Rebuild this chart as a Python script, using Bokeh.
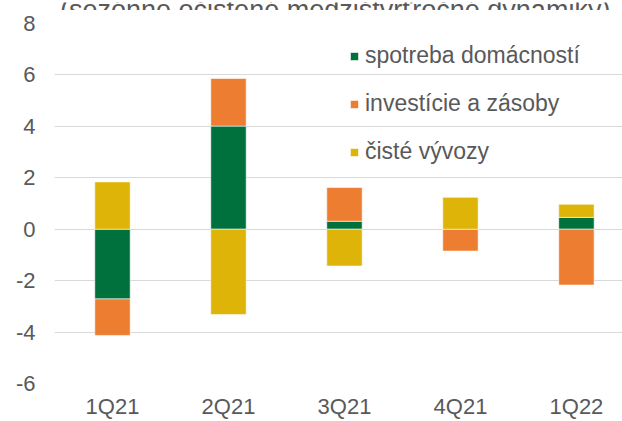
from bokeh.plotting import figure
from bokeh.layouts import column
from bokeh.models import ColumnDataSource, Range1d, Legend, LegendItem, FixedTicker
from bokeh.core.properties import value
from bokeh.embed import file_html
from bokeh.resources import INLINE

# ---- data ----
quarters = ["1Q21", "2Q21", "3Q21", "4Q21", "1Q22"]
spotreba = [-2.71, 4.01, 0.31, 0.0, 0.46]
investicie = [-1.42, 1.85, 1.31, -0.85, -2.17]
vyvozy = [1.84, -3.32, -1.43, 1.24, 0.51]
series_names = ["spotreba domácností", "investície a zásoby", "čisté vývozy"]
series_values = [spotreba, investicie, vyvozy]
colors = ["#00703C", "#ED7D31", "#DEB408"]
y_ticks = [-6, -4, -2, 0, 2, 4, 6, 8]
y_tick_labels = ["-6", "-4", "-2", "0", "2", "4", "6", "8"]
title_text = "(sezónne očistené medzištvrťročné dynamiky)"

FONT = "Liberation Sans"
TXT = "#595959"
X_RANGE = (-0.5, 4.397)

# ---- title strip (only the lower part of the title is visible, as in the source) ----
t = figure(width=622, height=10, output_backend="svg", toolbar_location=None,
           x_range=Range1d(*X_RANGE), y_range=Range1d(0, 10),
           x_axis_type=None, y_axis_type=None,
           min_border_left=54, min_border_right=0, min_border_top=0, min_border_bottom=0)
t.outline_line_color = None
t.grid.visible = False
t.text(x=[1.92], y=[3], text=[title_text], text_align="center", text_baseline="alphabetic",
       text_font=value(FONT), text_font_size="27px", text_color=TXT)

# ---- main chart ----
p = figure(width=622, height=411, output_backend="svg", toolbar_location=None,
           x_range=Range1d(*X_RANGE), y_range=Range1d(-6, 8),
           min_border_left=54, min_border_right=0, min_border_top=13, min_border_bottom=37)
p.outline_line_color = None
p.background_fill_color = "white"
p.border_fill_color = "white"

xs = list(range(len(quarters)))
pos_base = [0.0] * len(quarters)
neg_base = [0.0] * len(quarters)
legend_items = []
for name, vals, col in zip(series_names, series_values, colors):
    bottoms, tops = [], []
    for i, v in enumerate(vals):
        if v >= 0:
            bottoms.append(pos_base[i]); tops.append(pos_base[i] + v); pos_base[i] += v
        else:
            bottoms.append(neg_base[i]); tops.append(neg_base[i] + v); neg_base[i] += v
    src = ColumnDataSource(dict(x=xs, bottom=bottoms, top=tops))
    r = p.vbar(x="x", bottom="bottom", top="top", width=0.305, source=src,
               fill_color=col, line_color="white", line_width=0.8, line_alpha=0.7)
    legend_items.append(LegendItem(label=name, renderers=[r]))

p.yaxis.ticker = FixedTicker(ticks=y_ticks)
p.yaxis.major_label_overrides = {tk: s for tk, s in zip(y_ticks, y_tick_labels)}
p.xaxis.ticker = FixedTicker(ticks=xs)
p.xaxis.major_label_overrides = {i: q for i, q in zip(xs, quarters)}
for ax in (p.xaxis, p.yaxis):
    ax.axis_line_color = None
    ax.major_tick_line_color = None
    ax.minor_tick_line_color = None
    ax.major_tick_out = 0
    ax.major_tick_in = 0
    ax.minor_tick_out = 0
    ax.minor_tick_in = 0
    ax.major_label_text_font = FONT
    ax.major_label_text_font_size = "22px"
    ax.major_label_text_color = TXT
p.yaxis.major_label_standoff = 19
p.xaxis.major_label_standoff = 10

p.xgrid.grid_line_color = None
p.ygrid.grid_line_color = "#D9D9D9"
p.ygrid.grid_line_width = 1.2

legend = Legend(items=legend_items, location=(295, 218), border_line_color=None,
                background_fill_alpha=0, label_text_font=FONT, label_text_font_size="23px",
                label_text_color=TXT, glyph_width=10, glyph_height=10, label_standoff=6,
                spacing=21, padding=0, margin=0)
p.add_layout(legend)

layout = column(t, p, spacing=0)
open("out.html", "w").write(file_html(layout, INLINE))
